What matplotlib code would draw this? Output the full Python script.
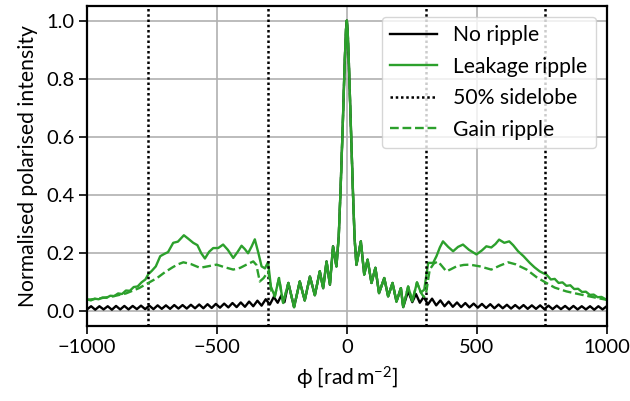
import matplotlib
matplotlib.use('Agg')
import matplotlib.pyplot as plt
import numpy as np

# ---------------- data ----------------
# No ripple: outer ripples sampled every 16 rad/m^2, plus central peak/trough points
nr_left = [0.007, 0.018, 0.006, 0.018, 0.007, 0.018, 0.006, 0.019, 0.007, 0.019,
           0.007, 0.019, 0.008, 0.020, 0.008, 0.020, 0.008, 0.021, 0.009, 0.021,
           0.009, 0.022, 0.010, 0.022, 0.010, 0.023, 0.011, 0.024, 0.011, 0.025,
           0.012, 0.026, 0.013, 0.027, 0.014, 0.029, 0.015, 0.031, 0.016, 0.034,
           0.018, 0.037, 0.020, 0.042, 0.024]
nr_mid_phi = [-281, -266, -252, -240, -225, -203, -181, -162, -142, -123,
              -104, -91, -78, -65, -53, -40, -31, -24, -16, -8,
              -3, 0, 3, 8, 16, 24, 30, 37, 54, 67,
              80, 95, 110, 124, 144, 159, 176, 191, 208, 217,
              236, 252, 266, 281]
nr_mid = [0.050, 0.030, 0.055, 0.032, 0.098, 0.015, 0.103, 0.038, 0.120, 0.056,
          0.138, 0.080, 0.172, 0.092, 0.224, 0.155, 0.26, 0.42, 0.63, 0.86,
          0.97, 1.0, 0.97, 0.85, 0.62, 0.40, 0.25, 0.16, 0.241, 0.127,
          0.178, 0.098, 0.150, 0.063, 0.115, 0.052, 0.098, 0.034, 0.080, 0.015,
          0.070, 0.032, 0.060, 0.030]
nr_right = [0.050, 0.024, 0.044, 0.021, 0.038, 0.018, 0.034, 0.016, 0.031, 0.015,
            0.029, 0.014, 0.027, 0.013, 0.026, 0.012, 0.025, 0.011, 0.024, 0.011,
            0.023, 0.010, 0.022, 0.010, 0.022, 0.009, 0.021, 0.009, 0.021, 0.008,
            0.020, 0.008, 0.020, 0.008, 0.019, 0.007, 0.019, 0.007, 0.018, 0.007,
            0.018, 0.006, 0.018, 0.007, 0.018]

# Central part shared by both rippled curves
core_phi = [-277, -261, -245, -225, -203, -181, -162, -142, -123, -104,
            -91, -78, -65, -53, -40, -31, -24, -16, -8, -3,
            0, 3, 8, 16, 24, 30, 37, 54, 67, 80,
            95, 110, 124, 144, 159, 176, 191, 208, 217, 236,
            252, 270, 285]
core = [0.052, 0.115, 0.029, 0.098, 0.015, 0.103, 0.038, 0.120, 0.056, 0.138,
        0.080, 0.172, 0.092, 0.224, 0.155, 0.26, 0.42, 0.63, 0.86, 0.97,
        1.0, 0.97, 0.85, 0.62, 0.40, 0.25, 0.16, 0.241, 0.127, 0.178,
        0.098, 0.150, 0.063, 0.115, 0.052, 0.098, 0.034, 0.080, 0.015, 0.086,
        0.035, 0.100, 0.065]

# Leakage ripple, outer parts
lk_left_phi = [-1000, -985, -970, -955, -940, -925, -910, -895, -880, -865,
               -850, -835, -820, -805, -790, -775, -764, -750, -735, -718,
               -702, -688, -668, -650, -627, -610, -591, -575, -560, -546,
               -530, -514, -495, -476, -458, -437, -420, -405, -392, -380,
               -366, -354, -340, -328, -315, -303, -292]
lk_left = [0.042, 0.038, 0.044, 0.042, 0.048, 0.047, 0.054, 0.053, 0.062, 0.060,
           0.072, 0.071, 0.084, 0.086, 0.100, 0.110, 0.128, 0.140, 0.155, 0.190,
           0.198, 0.204, 0.236, 0.240, 0.262, 0.250, 0.236, 0.228, 0.200, 0.182,
           0.205, 0.218, 0.218, 0.230, 0.212, 0.184, 0.205, 0.226, 0.214, 0.200,
           0.224, 0.248, 0.200, 0.155, 0.148, 0.170, 0.085]
lk_right_phi = [298, 313, 332, 345, 358, 370, 390, 409, 428, 447,
                470, 499, 520, 537, 556, 572, 586, 606, 625, 640,
                659, 680, 704, 722, 742, 755, 768, 785, 800, 815,
                830, 845, 860, 875, 890, 905, 920, 935, 950, 965,
                980, 1000]
lk_right = [0.075, 0.167, 0.167, 0.190, 0.220, 0.241, 0.222, 0.207, 0.222, 0.230,
            0.212, 0.196, 0.210, 0.224, 0.220, 0.232, 0.247, 0.236, 0.241, 0.228,
            0.207, 0.190, 0.167, 0.152, 0.138, 0.132, 0.127, 0.110, 0.112, 0.098,
            0.100, 0.088, 0.090, 0.077, 0.078, 0.067, 0.068, 0.057, 0.058, 0.049,
            0.050, 0.040]

# Gain ripple, outer parts
gn_left_phi = [-1000, -950, -900, -850, -800, -764, -730, -700, -670, -650,
               -629, -600, -565, -530, -501, -470, -437, -410, -386, -360,
               -348, -335, -320, -302, -290]
gn_left = [0.040, 0.045, 0.052, 0.062, 0.080, 0.098, 0.115, 0.135, 0.152, 0.162,
           0.169, 0.163, 0.150, 0.156, 0.161, 0.152, 0.144, 0.150, 0.161, 0.172,
           0.160, 0.103, 0.115, 0.138, 0.070]
gn_right_phi = [296, 305, 319, 335, 351, 367, 383, 400, 422, 450,
                473, 512, 556, 590, 621, 650, 692, 730, 768, 800,
                845, 880, 922, 960, 1000]
gn_right = [0.050, 0.063, 0.144, 0.165, 0.172, 0.155, 0.138, 0.145, 0.155, 0.160,
            0.161, 0.155, 0.144, 0.158, 0.169, 0.162, 0.144, 0.118, 0.098, 0.082,
            0.069, 0.062, 0.054, 0.047, 0.040]

sidelobe_phi = [-764, -303, 303, 764]

xticks = [-1000, -500, 0, 500, 1000]
yticks = [0.0, 0.2, 0.4, 0.6, 0.8, 1.0]

# ---------------- assemble ----------------
phi_nr = np.concatenate([np.arange(-1000, -295, 16), nr_mid_phi, np.arange(296, 1001, 16)])
val_nr = np.concatenate([nr_left, nr_mid, nr_right])
phi_lk = np.concatenate([lk_left_phi, core_phi, lk_right_phi])
val_lk = np.concatenate([lk_left, core, lk_right])
phi_gn = np.concatenate([gn_left_phi, core_phi, gn_right_phi])
val_gn = np.concatenate([gn_left, core, gn_right])

# ---------------- style ----------------
plt.rcParams['font.family'] = ['Lato', 'DejaVu Sans']
plt.rcParams['mathtext.fontset'] = 'custom'
plt.rcParams['mathtext.rm'] = 'Lato'
plt.rcParams['mathtext.it'] = 'Lato:italic'
plt.rcParams['mathtext.bf'] = 'Lato:bold'

green = '#2ca02c'
fs_tick = 14.5
fs = 15.2

fig = plt.figure(figsize=(6.3, 4.01), dpi=100)
ax = fig.add_axes([0.138, 0.187, 0.825, 0.798])

ax.plot(phi_nr, val_nr, color='k', lw=1.7, label='No ripple')
ax.plot(phi_lk, val_lk, color=green, lw=1.7, label='Leakage ripple')
for i, x in enumerate(sidelobe_phi):
    ax.axvline(x, color='k', ls=(0, (1, 1.1)), lw=1.8,
               label='50% sidelobe' if i == 0 else None)
ax.plot(phi_gn, val_gn, color=green, lw=1.7, ls='--', label='Gain ripple')

ax.set_xlim(-1000, 1000)
ax.set_ylim(-0.05, 1.05)
ax.set_xticks(xticks)
ax.set_yticks(yticks)
ax.grid(True, color='#b0b0b0', lw=1.2)
ax.set_axisbelow(True)
for s in ax.spines.values():
    s.set_linewidth(1.6)
ax.tick_params(labelsize=fs_tick, length=5.5, width=1.2)

ax.set_xlabel('ϕ [rad$\\,$m$^{-2}$]', fontsize=fs, labelpad=7)
ax.set_ylabel('Normalised polarised intensity', fontsize=fs, labelpad=6)

leg = ax.legend(loc='upper right', fontsize=fs, framealpha=0.8, handlelength=2.2,
                borderaxespad=0.5, labelspacing=0.55)

fig.savefig('out.png', dpi=100)
